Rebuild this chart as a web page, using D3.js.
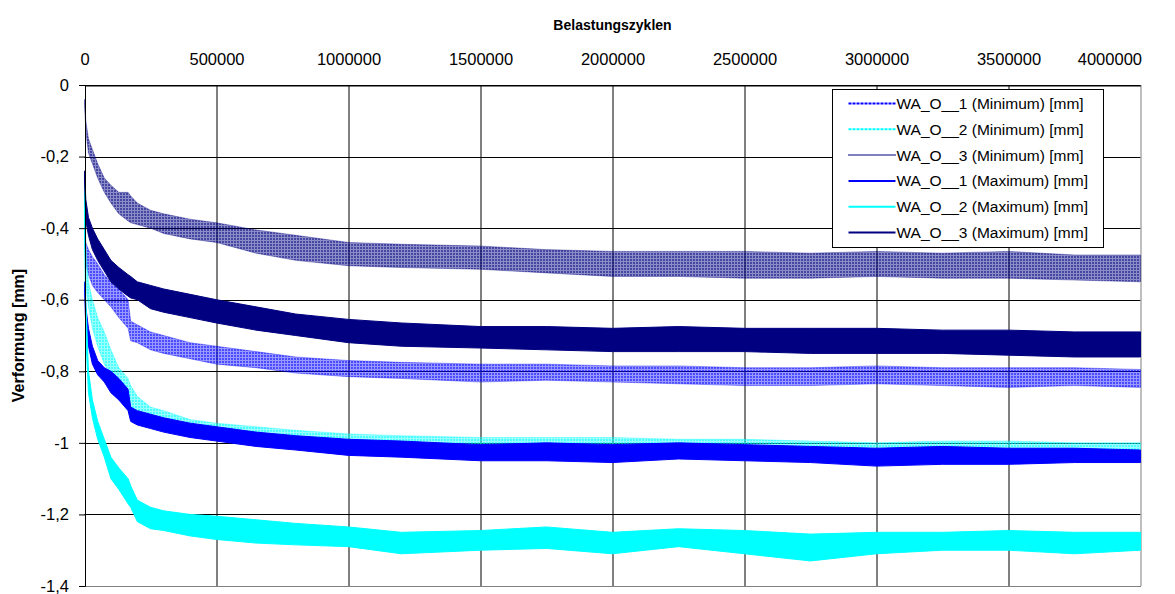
<!DOCTYPE html>
<html>
<head>
<meta charset="utf-8">
<script src="https://cdn.jsdelivr.net/npm/d3@7"></script>
<style>
  body { margin: 0; background: #fff; }
  text { font-family: "Liberation Sans", Arial, sans-serif; }
</style>
</head>
<body>
<svg id="chart"></svg>
<script>
// chart data (band edges of each noisy series)
var cycles = [0, 5000, 15000, 30000, 50000, 75000, 100000, 130000, 165000, 175000, 200000, 250000, 300000, 400000, 500000,
              650000, 800000, 1000000, 1200000, 1500000, 1750000, 2000000, 2250000, 2500000, 2750000, 3000000, 3250000,
              3500000, 3750000, 4000000];

var wa1MinUpper = [-0.40, -0.44, -0.46, -0.48, -0.50, -0.53, -0.55, -0.57, -0.60, -0.66, -0.67, -0.69, -0.70, -0.72, -0.73,
                   -0.745, -0.76, -0.77, -0.775, -0.78, -0.78, -0.785, -0.785, -0.79, -0.79, -0.785, -0.79, -0.79, -0.79, -0.795];
var wa1MinLower = [-0.44, -0.50, -0.53, -0.56, -0.58, -0.60, -0.62, -0.65, -0.68, -0.715, -0.72, -0.74, -0.75, -0.765, -0.78,
                   -0.79, -0.805, -0.815, -0.82, -0.83, -0.825, -0.83, -0.835, -0.84, -0.84, -0.835, -0.84, -0.845, -0.84, -0.845];

var wa2MinUpper = [-0.28, -0.45, -0.55, -0.60, -0.65, -0.69, -0.74, -0.79, -0.82, -0.84, -0.87, -0.90, -0.91, -0.935, -0.945,
                   -0.955, -0.965, -0.975, -0.98, -0.985, -0.985, -0.985, -0.99, -0.99, -0.995, -1.0, -0.995, -0.995, -1.0, -1.0];
var wa2MinLower = [-0.32, -0.55, -0.62, -0.68, -0.73, -0.78, -0.81, -0.85, -0.89, -0.91, -0.93, -0.95, -0.96, -0.975, -0.985,
                   -1.0, -1.01, -1.02, -1.025, -1.03, -1.03, -1.035, -1.03, -1.035, -1.04, -1.04, -1.04, -1.04, -1.045, -1.045];

var wa3MinUpper = [-0.04, -0.10, -0.15, -0.18, -0.22, -0.26, -0.28, -0.30, -0.30, -0.31, -0.33, -0.35, -0.36, -0.375, -0.385,
                   -0.405, -0.42, -0.44, -0.445, -0.45, -0.46, -0.465, -0.465, -0.465, -0.47, -0.465, -0.47, -0.465, -0.475, -0.475];
var wa3MinLower = [-0.05, -0.13, -0.19, -0.22, -0.26, -0.30, -0.33, -0.36, -0.38, -0.385, -0.39, -0.40, -0.415, -0.43, -0.44,
                   -0.47, -0.49, -0.505, -0.51, -0.515, -0.525, -0.535, -0.535, -0.54, -0.54, -0.535, -0.54, -0.54, -0.545, -0.55];

var wa1MaxUpper = [-0.55, -0.62, -0.68, -0.73, -0.77, -0.79, -0.80, -0.82, -0.85, -0.90, -0.91, -0.92, -0.93, -0.945, -0.955,
                   -0.97, -0.98, -0.99, -0.995, -1.005, -1.0, -1.005, -1.0, -1.005, -1.01, -1.015, -1.01, -1.015, -1.015, -1.02];
var wa1MaxLower = [-0.57, -0.68, -0.73, -0.78, -0.81, -0.83, -0.86, -0.88, -0.91, -0.94, -0.95, -0.96, -0.97, -0.985, -0.995,
                   -1.01, -1.02, -1.035, -1.04, -1.05, -1.05, -1.055, -1.045, -1.05, -1.055, -1.065, -1.06, -1.06, -1.055, -1.055];

var wa2MaxUpper = [-0.30, -0.60, -0.80, -0.88, -0.94, -0.99, -1.04, -1.07, -1.10, -1.12, -1.16, -1.18, -1.19, -1.20, -1.205,
                   -1.215, -1.225, -1.235, -1.25, -1.245, -1.235, -1.25, -1.24, -1.245, -1.255, -1.25, -1.25, -1.245, -1.25, -1.25];
var wa2MaxLower = [-0.34, -0.70, -0.86, -0.93, -0.99, -1.04, -1.10, -1.13, -1.17, -1.18, -1.22, -1.24, -1.245, -1.26, -1.27,
                   -1.28, -1.285, -1.29, -1.31, -1.30, -1.295, -1.31, -1.29, -1.31, -1.33, -1.31, -1.30, -1.30, -1.31, -1.30];

var wa3MaxUpper = [-0.24, -0.32, -0.37, -0.40, -0.43, -0.46, -0.49, -0.51, -0.53, -0.535, -0.55, -0.56, -0.57, -0.585, -0.60,
                   -0.62, -0.64, -0.655, -0.665, -0.675, -0.675, -0.68, -0.675, -0.68, -0.68, -0.68, -0.685, -0.685, -0.69, -0.69];
var wa3MaxLower = [-0.26, -0.38, -0.42, -0.46, -0.49, -0.52, -0.55, -0.57, -0.59, -0.595, -0.60, -0.625, -0.635, -0.65, -0.665,
                   -0.685, -0.70, -0.72, -0.73, -0.735, -0.74, -0.745, -0.745, -0.745, -0.75, -0.75, -0.75, -0.755, -0.76, -0.76];

var seriesNames = ["WA_O__1 (Minimum) [mm]", "WA_O__2 (Minimum) [mm]", "WA_O__3 (Minimum) [mm]",
                   "WA_O__1 (Maximum) [mm]", "WA_O__2 (Maximum) [mm]", "WA_O__3 (Maximum) [mm]"];

var xTicks = [0, 500000, 1000000, 1500000, 2000000, 2500000, 3000000, 3500000, 4000000];
var xTickLabels = ["0", "500000", "1000000", "1500000", "2000000", "2500000", "3000000", "3500000", "4000000"];
var yTicks = [0, -0.2, -0.4, -0.6, -0.8, -1, -1.2, -1.4];
var yTickLabels = ["0", "-0,2", "-0,4", "-0,6", "-0,8", "-1", "-1,2", "-1,4"];

var series = [
    {name: seriesNames[0], upper: wa1MinUpper, lower: wa1MinLower, color: "#0000ff", dotted: true,  dash: "3,1"},
    {name: seriesNames[1], upper: wa2MinUpper, lower: wa2MinLower, color: "#00ffff", dotted: true,  dash: "3,1"},
    {name: seriesNames[2], upper: wa3MinUpper, lower: wa3MinLower, color: "#000080", dotted: true,  dash: "1,1"},
    {name: seriesNames[3], upper: wa1MaxUpper, lower: wa1MaxLower, color: "#0000ff", dotted: false, dash: null},
    {name: seriesNames[4], upper: wa2MaxUpper, lower: wa2MaxLower, color: "#00ffff", dotted: false, dash: null},
    {name: seriesNames[5], upper: wa3MaxUpper, lower: wa3MaxLower, color: "#000080", dotted: false, dash: null}
];

var totalWidth = 1175, totalHeight = 594;
var margin = {top: 85, right: 34.5, bottom: 8, left: 84.5};
var width = totalWidth - margin.left - margin.right;
var height = totalHeight - margin.top - margin.bottom;

var svg = d3.select("#chart")
    .attr("width", totalWidth)
    .attr("height", totalHeight);

var defs = svg.append("defs");
series.forEach(function(s, i) {
    if (!s.dotted) return;
    var p = defs.append("pattern")
        .attr("id", "hatch" + i)
        .attr("patternUnits", "userSpaceOnUse")
        .attr("width", 3).attr("height", 3);
    p.append("rect").attr("width", 3).attr("height", 3)
        .attr("fill", s.color).attr("fill-opacity", i === 2 ? 0.45 : 0.4);
    p.append("rect").attr("width", 1).attr("height", 2)
        .attr("fill", s.color);
});

var g = svg.append("g")
    .attr("transform", "translate(" + margin.left + "," + margin.top + ")");

var x = d3.scaleLinear().domain([0, 4000000]).range([0, width]);
var y = d3.scaleLinear().domain([-1.4, 0]).range([height, 0]);

// gridlines
g.append("g").selectAll("line.h")
    .data(yTicks).enter().append("line")
    .attr("x1", 0).attr("x2", width)
    .attr("y1", function(d) { return Math.round(y(d)) + 0.5; })
    .attr("y2", function(d) { return Math.round(y(d)) + 0.5; })
    .attr("stroke", "#000").attr("stroke-width", 1);
g.append("g").selectAll("line.v")
    .data(xTicks.slice(1, -1)).enter().append("line")
    .attr("y1", 0).attr("y2", height)
    .attr("x1", function(d) { return Math.round(x(d)) + 0.5; })
    .attr("x2", function(d) { return Math.round(x(d)) + 0.5; })
    .attr("stroke", "#000").attr("stroke-width", 1);

// plot border (right and bottom grey)
g.append("line").attr("x1", Math.round(width) + 0.5).attr("x2", Math.round(width) + 0.5)
    .attr("y1", 0).attr("y2", height).attr("stroke", "#808080");
g.append("line").attr("x1", 0).attr("x2", width)
    .attr("y1", Math.round(height) + 0.5).attr("y2", Math.round(height) + 0.5).attr("stroke", "#808080");

// series bands
var area = d3.area()
    .x(function(d) { return x(d.c); })
    .y0(function(d) { return y(d.lo); })
    .y1(function(d) { return y(d.hi); });

series.forEach(function(s, i) {
    var pts = cycles.map(function(c, k) { return {c: c, hi: s.upper[k], lo: s.lower[k]}; });
    g.append("path")
        .datum(pts)
        .attr("d", area)
        .attr("fill", s.dotted ? "url(#hatch" + i + ")" : s.color)
        .attr("stroke", s.color)
        .attr("stroke-width", s.dotted ? 0.6 : 1)
        .attr("stroke-opacity", s.dotted ? 0.6 : 1);
});

// axes
var yAxis = d3.axisLeft(y)
    .tickValues(yTicks)
    .tickSize(6)
    .tickPadding(10)
    .tickFormat(function(d, i) { return yTickLabels[i]; });
var yg = g.append("g").attr("transform", "translate(0.5,0)").call(yAxis);
yg.select(".domain").attr("stroke", "#000");
yg.selectAll(".tick line").attr("stroke", "#000");
yg.selectAll("text").attr("font-size", 16.5).attr("fill", "#000")
    .attr("font-family", "'Liberation Sans', Arial, sans-serif");

var xAxis = d3.axisTop(x)
    .tickValues(xTicks)
    .tickSize(0)
    .tickPadding(21)
    .tickFormat(function(d, i) { return xTickLabels[i]; });
var xg = g.append("g").attr("transform", "translate(0,0.5)").call(xAxis);
xg.select(".domain").attr("stroke", "#000");
xg.selectAll("text").attr("font-size", 16.5).attr("fill", "#000")
    .attr("font-family", "'Liberation Sans', Arial, sans-serif");
// the last label is pulled inside the right edge, as in the original
xg.selectAll(".tick text").filter(function(d) { return d === 4000000; })
    .attr("text-anchor", "end").attr("x", 1);

// titles
svg.append("text")
    .attr("x", margin.left + width / 2)
    .attr("y", 30)
    .attr("text-anchor", "middle")
    .attr("font-size", 14)
    .attr("font-weight", "bold")
    .text("Belastungszyklen");

svg.append("text")
    .attr("transform", "translate(24," + (margin.top + height / 2) + ")rotate(-90)")
    .attr("text-anchor", "middle")
    .attr("font-size", 16)
    .attr("font-weight", "bold")
    .text("Verformung [mm]");

// legend
var legend = svg.append("g").attr("transform", "translate(832.5,89.5)");
legend.append("rect")
    .attr("width", 271).attr("height", 158)
    .attr("fill", "#fff").attr("stroke", "#000");

var item = legend.selectAll("g.item")
    .data(series).enter().append("g")
    .attr("transform", function(d, i) { return "translate(0," + (14 + i * 25.8) + ")"; });
item.append("line")
    .attr("x1", 16).attr("x2", 63)
    .attr("stroke", function(d) { return d.color; })
    .attr("stroke-width", 2)
    .attr("stroke-dasharray", function(d) { return d.dash; });
item.append("text")
    .attr("x", 64).attr("y", 5.5)
    .attr("font-size", 15.5)
    .text(function(d) { return d.name; });
</script>
</body>
</html>
